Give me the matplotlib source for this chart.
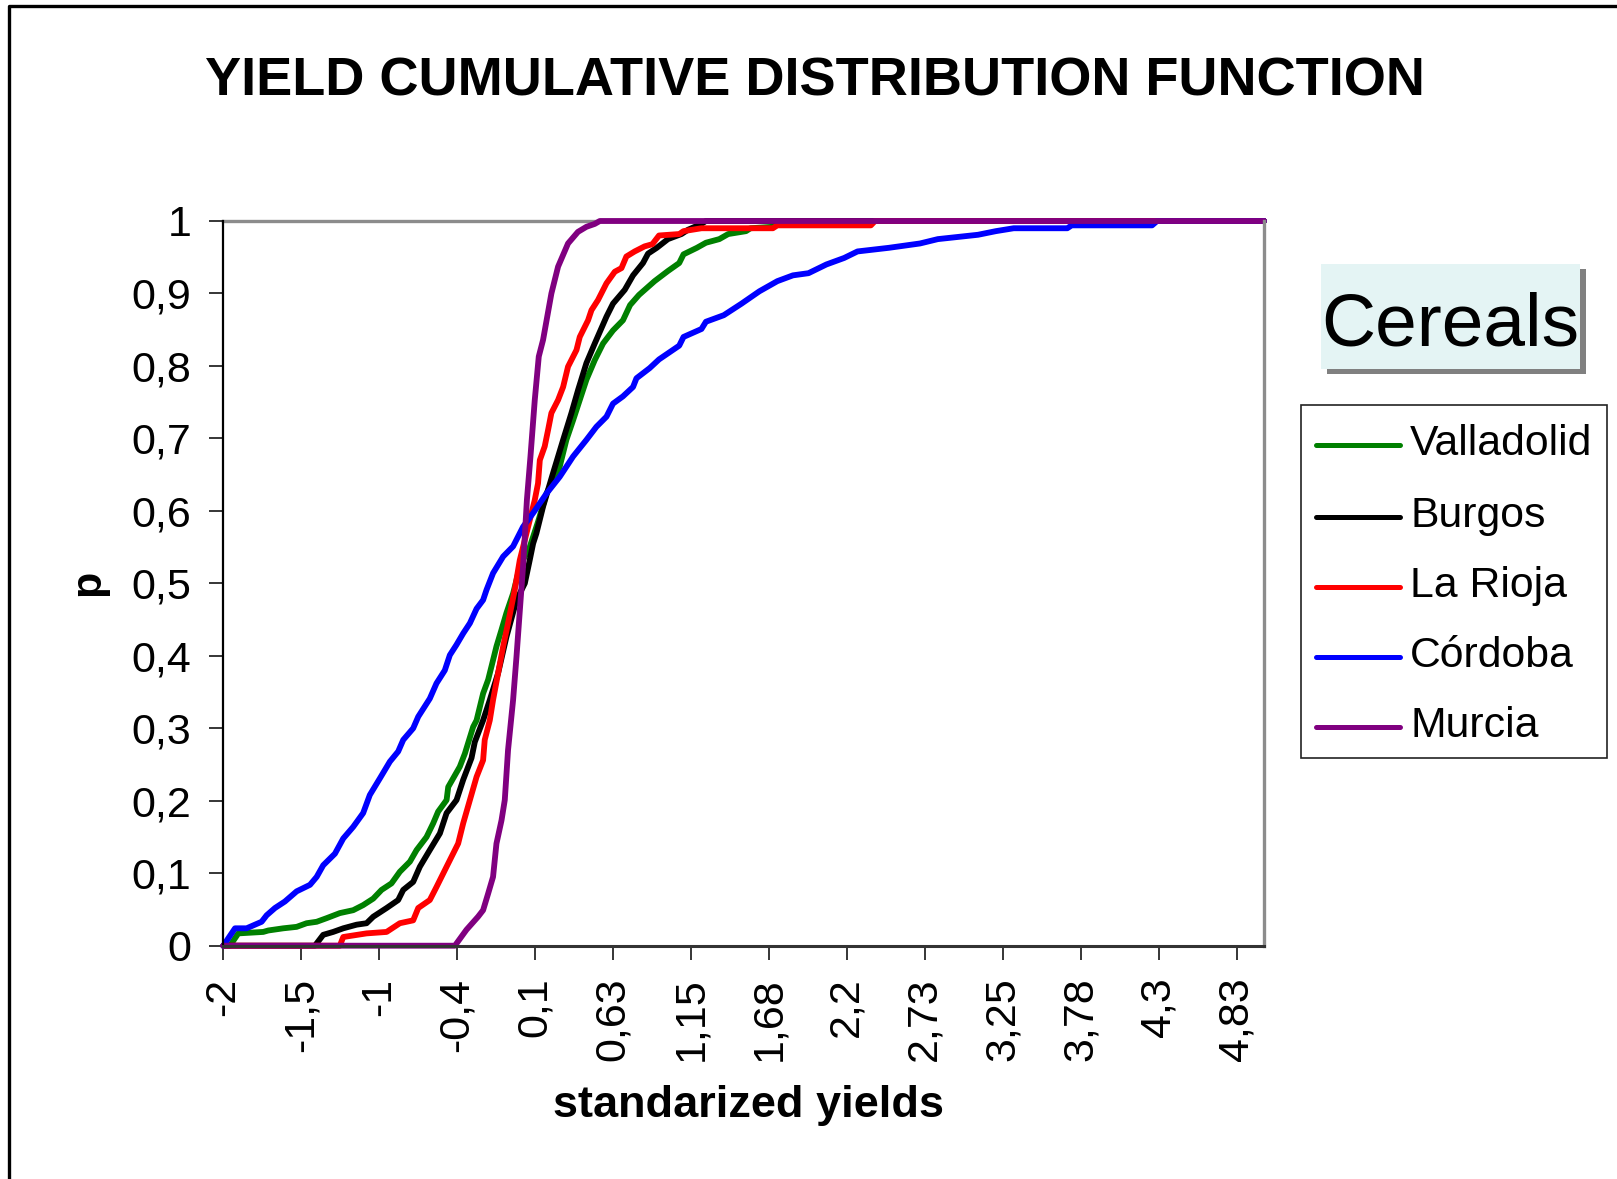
import matplotlib
matplotlib.use("Agg")
import matplotlib.pyplot as plt
from matplotlib.patches import Rectangle
from matplotlib.lines import Line2D

plt.rcParams['font.family'] = ['Liberation Sans', 'DejaVu Sans']

# ---------------- data ----------------
series_names = ["Valladolid", "Burgos", "La Rioja", "Córdoba", "Murcia"]
series_colors = ["#008000", "#000000", "#FF0000", "#0000FF", "#800080"]

valladolid_x = [-2.0, -1.955, -1.899, -1.731, -1.697, -1.596, -1.506, -1.439, -1.371, -1.304,
                -1.215, -1.125, -1.058, -0.990, -0.934, -0.867, -0.811, -0.743, -0.698, -0.631,
                -0.586, -0.553, -0.496, -0.485, -0.407, -0.373, -0.317, -0.294, -0.250, -0.216,
                -0.183, -0.160, -0.126, -0.093, -0.048, 0.0, 0.064, 0.12, 0.177, 0.266, 0.311,
                0.356, 0.401, 0.446, 0.502, 0.558, 0.625, 0.692, 0.740, 0.800, 0.905, 0.995,
                1.071, 1.100, 1.190, 1.251, 1.341, 1.401, 1.521, 1.551, 1.702, 1.75, 5.01]
valladolid_p = [0.0, 0.0, 0.017, 0.019, 0.021, 0.024, 0.026, 0.031, 0.033, 0.038,
                0.045, 0.049, 0.056, 0.065, 0.077, 0.086, 0.102, 0.116, 0.132, 0.150,
                0.169, 0.185, 0.201, 0.219, 0.247, 0.265, 0.302, 0.311, 0.348, 0.367,
                0.394, 0.413, 0.436, 0.459, 0.486, 0.525, 0.550, 0.585, 0.624, 0.661, 0.698,
                0.725, 0.753, 0.781, 0.808, 0.831, 0.849, 0.863, 0.884, 0.898, 0.917, 0.931,
                0.942, 0.954, 0.963, 0.970, 0.975, 0.982, 0.986, 0.990, 0.992, 1.0, 1.0]

burgos_x = [-2.0, -1.383, -1.327, -1.260, -1.192, -1.102, -1.035, -0.990, -0.900, -0.822,
            -0.788, -0.721, -0.676, -0.609, -0.541, -0.496, -0.429, -0.384, -0.328, -0.306,
            -0.250, -0.205, -0.149, -0.093, -0.025, 0.031, 0.064, 0.087, 0.109, 0.154,
            0.221, 0.289, 0.345, 0.390, 0.446, 0.502, 0.581, 0.625, 0.704, 0.760, 0.827,
            0.861, 0.920, 0.995, 1.086, 1.131, 1.221, 1.25, 5.01]
burgos_p = [0.0, 0.0, 0.015, 0.019, 0.024, 0.029, 0.031, 0.040, 0.052, 0.063,
            0.077, 0.088, 0.109, 0.132, 0.155, 0.183, 0.201, 0.229, 0.259, 0.281,
            0.311, 0.339, 0.376, 0.426, 0.477, 0.500, 0.532, 0.555, 0.569, 0.606,
            0.652, 0.698, 0.735, 0.767, 0.804, 0.831, 0.868, 0.886, 0.905, 0.925, 0.942,
            0.955, 0.963, 0.975, 0.982, 0.988, 0.996, 1.0, 1.0]

larioja_x = [-2.0, -1.215, -1.192, -1.035, -0.900, -0.811, -0.721, -0.687, -0.609, -0.564,
             -0.496, -0.418, -0.384, -0.339, -0.294, -0.250, -0.239, -0.205, -0.183, -0.149,
             -0.115, -0.082, -0.037, -0.003, 0.064, 0.098, 0.120, 0.132, 0.165, 0.188,
             0.210, 0.255, 0.289, 0.322, 0.379, 0.401, 0.457, 0.480, 0.524, 0.581, 0.637,
             0.682, 0.715, 0.771, 0.838, 0.890, 0.935, 1.071, 1.100, 1.221, 1.702, 1.732,
             2.362, 2.39, 5.01]
larioja_p = [0.0, 0.0, 0.012, 0.017, 0.019, 0.031, 0.035, 0.052, 0.063, 0.081,
             0.109, 0.141, 0.169, 0.201, 0.233, 0.256, 0.284, 0.311, 0.339, 0.376,
             0.413, 0.445, 0.491, 0.532, 0.587, 0.615, 0.638, 0.670, 0.689, 0.712,
             0.735, 0.753, 0.771, 0.799, 0.822, 0.840, 0.863, 0.877, 0.891, 0.914, 0.930,
             0.935, 0.951, 0.958, 0.965, 0.968, 0.980, 0.982, 0.986, 0.990, 0.990, 0.994,
             0.994, 1.0, 1.0]

cordoba_x = [-2.0, -1.921, -1.843, -1.787, -1.742, -1.708, -1.652, -1.585, -1.506, -1.416,
             -1.371, -1.327, -1.248, -1.192, -1.125, -1.058, -1.013, -0.945, -0.878, -0.822,
             -0.788, -0.721, -0.687, -0.609, -0.564, -0.508, -0.474, -0.430, -0.384, -0.339,
             -0.294, -0.250, -0.227, -0.183, -0.115, -0.048, 0.019, 0.087, 0.177, 0.266,
             0.356, 0.446, 0.513, 0.581, 0.625, 0.692, 0.760, 0.783, 0.872, 0.935, 1.071,
             1.100, 1.221, 1.251, 1.371, 1.491, 1.611, 1.732, 1.837, 1.942, 2.062, 2.182,
             2.272, 2.483, 2.693, 2.813, 3.084, 3.204, 3.324, 3.685, 3.715, 4.256, 4.29, 5.01]
cordoba_p = [0.0, 0.024, 0.024, 0.029, 0.033, 0.042, 0.052, 0.061, 0.075, 0.084,
             0.095, 0.111, 0.127, 0.148, 0.164, 0.183, 0.208, 0.231, 0.254, 0.268,
             0.284, 0.300, 0.316, 0.341, 0.362, 0.380, 0.401, 0.415, 0.431, 0.445,
             0.465, 0.477, 0.491, 0.514, 0.537, 0.551, 0.578, 0.597, 0.624, 0.647,
             0.675, 0.698, 0.716, 0.730, 0.748, 0.758, 0.771, 0.783, 0.797, 0.809, 0.828,
             0.840, 0.851, 0.861, 0.870, 0.886, 0.903, 0.917, 0.925, 0.928, 0.940, 0.949,
             0.958, 0.963, 0.969, 0.975, 0.981, 0.986, 0.990, 0.990, 0.994, 0.994, 1.0, 1.0]

murcia_x = [-2.0, -0.440, -0.362, -0.284, -0.250, -0.216, -0.183, -0.160, -0.126, -0.104,
            -0.082, -0.048, -0.025, 0.0, 0.019, 0.045, 0.069, 0.098, 0.125, 0.154, 0.210,
            0.255, 0.322, 0.389, 0.446, 0.502, 0.536, 5.01]
murcia_p = [0.0, 0.0, 0.022, 0.040, 0.049, 0.072, 0.095, 0.141, 0.173, 0.201,
            0.270, 0.339, 0.399, 0.470, 0.523, 0.615, 0.675, 0.753, 0.813, 0.836, 0.900,
            0.937, 0.969, 0.985, 0.992, 0.996, 1.0, 1.0]

x_tick_pos = [-2.0, -1.475, -0.95, -0.425, 0.1, 0.625, 1.15, 1.675, 2.2, 2.725, 3.25, 3.775, 4.3, 4.825]
x_tick_labels = ["-2", "-1,5", "-1", "-0,4", "0,1", "0,63", "1,15", "1,68", "2,2", "2,73",
                 "3,25", "3,78", "4,3", "4,83"]
y_tick_pos = [0.0, 0.1, 0.2, 0.3, 0.4, 0.5, 0.6, 0.7, 0.8, 0.9, 1.0]
y_tick_labels = ["0", "0,1", "0,2", "0,3", "0,4", "0,5", "0,6", "0,7", "0,8", "0,9", "1"]

title = "YIELD CUMULATIVE DISTRIBUTION FUNCTION"
x_label = "standarized yields"
y_label = "p"
box_title = "Cereals"

xs = [valladolid_x, burgos_x, larioja_x, cordoba_x, murcia_x]
ps = [valladolid_p, burgos_p, larioja_p, cordoba_p, murcia_p]

# ---------------- figure ----------------
W, H = 1617, 1179
fig = plt.figure(figsize=(W / 100, H / 100), dpi=100)
fig.patch.set_facecolor("white")

def fx(px):
    return px / W

def fy(py):
    return 1 - py / H

ax = fig.add_axes([fx(223.3), fy(945.7), fx(1264) - fx(223.3), fy(221) - fy(945.7)])
ax.set_facecolor("white")

for x, p, c in zip(xs, ps, series_colors):
    ax.plot(x, p, color=c, lw=4.2, solid_joinstyle="round", solid_capstyle="round", clip_on=False)

ax.set_xlim(-2.0, 5.01)
ax.set_ylim(0, 1)
ax.set_xticks(x_tick_pos)
ax.set_xticklabels(x_tick_labels, rotation=90, fontsize=31, va="top", ha="center")
ax.set_yticks(y_tick_pos)
ax.set_yticklabels(y_tick_labels, fontsize=31)
ax.tick_params(axis="both", direction="out", length=10, width=1.1, color="black", pad=13)

for side in ["top", "right"]:
    ax.spines[side].set_color("#8c8c8c")
    ax.spines[side].set_linewidth(2.4)
ax.spines["left"].set_color("black")
ax.spines["left"].set_linewidth(1.6)
ax.spines["bottom"].set_color("#333333")
ax.spines["bottom"].set_linewidth(2.2)
ax.spines["top"].set_zorder(0.5)

# titles / labels
fig.text(fx(815), fy(96), title, ha="center", va="baseline", fontsize=39, fontweight="bold")
fig.text(fx(88), fy(583), y_label, ha="center", va="center", rotation=90, fontsize=31, fontweight="bold")
fig.text(fx(748), fy(1117), x_label, ha="center", va="baseline", fontsize=32.5, fontweight="bold")

# "Cereals" box with shadow
fig.add_artist(Rectangle((fx(1327), fy(374)), fx(259), (374 - 269) / H,
                         transform=fig.transFigure, facecolor="#808080", edgecolor="none"))
fig.add_artist(Rectangle((fx(1321), fy(369)), fx(259), (369 - 264) / H,
                         transform=fig.transFigure, facecolor="#E4F4F4", edgecolor="none"))
fig.text(fx(1450), fy(345), box_title, ha="center", va="baseline", fontsize=54)

# legend box
fig.add_artist(Rectangle((fx(1300.7), fy(758.3)), fx(306), (758.3 - 405.3) / H,
                         transform=fig.transFigure, facecolor="white", edgecolor="#222222", lw=1.2))
row_y = [445, 516.7, 586.7, 656.7, 727.3]
for name, c, ry in zip(series_names, series_colors, row_y):
    fig.add_artist(Line2D([fx(1316), fx(1400)], [fy(ry), fy(ry)], transform=fig.transFigure,
                          color=c, lw=3.6, solid_capstyle="round"))
    fig.text(fx(1410), fy(ry + 10), name, ha="left", va="baseline", fontsize=30.8)

# outer border (left and top visible)
fig.add_artist(Line2D([fx(9), fx(9), fx(W)], [fy(H), fy(6), fy(6)], transform=fig.transFigure,
                      color="black", lw=2.4))

fig.savefig("out.png", dpi=100)
